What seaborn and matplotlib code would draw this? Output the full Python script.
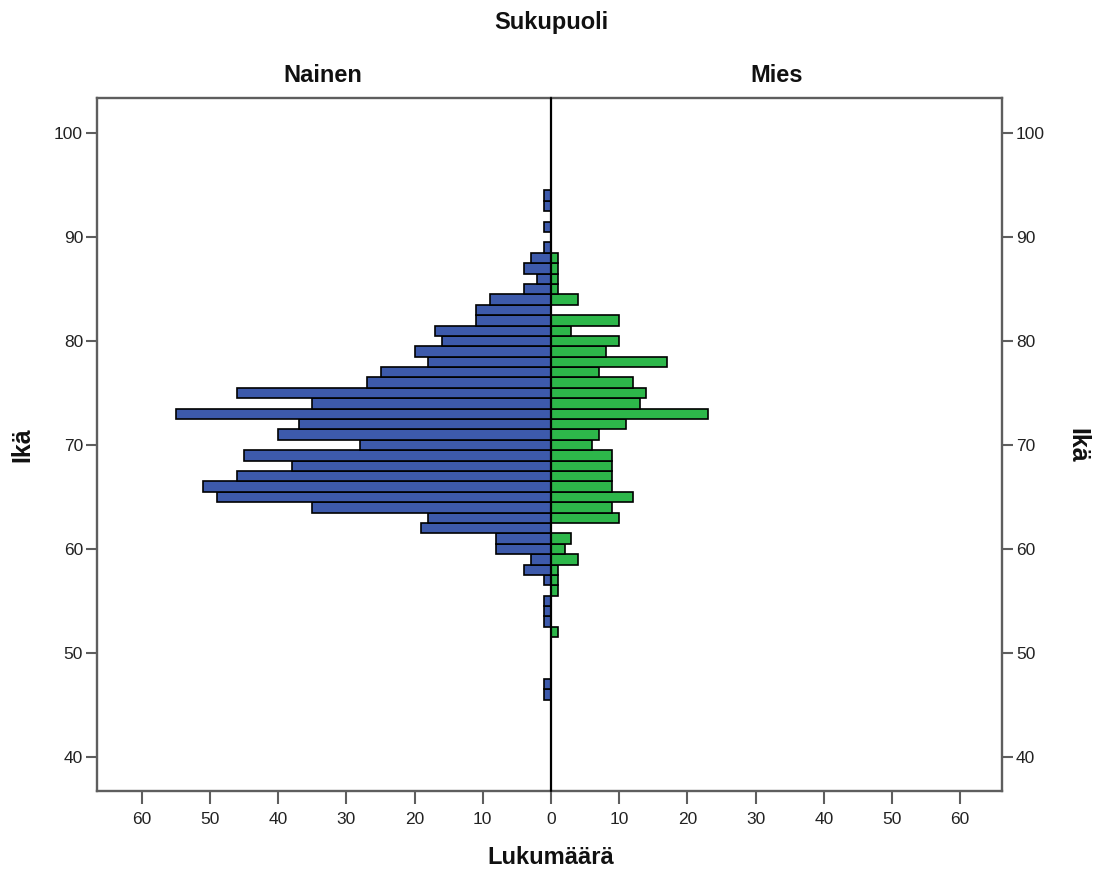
import matplotlib
matplotlib.use("Agg")
import matplotlib.pyplot as plt
import seaborn as sns
import pandas as pd

# Age (years) and head counts per single year of age
ages = list(range(46, 95))
women = [1, 1, 0, 0, 0, 0, 0, 1, 1, 1,
         0, 1, 4, 3, 8, 8, 19, 18, 35, 49,
         51, 46, 38, 45, 28, 40, 37, 55, 35, 46,
         27, 25, 18, 20, 16, 17, 11, 11, 9, 4,
         2, 4, 3, 1, 0, 1, 0, 1, 1]
men = [0, 0, 0, 0, 0, 0, 1, 0, 0, 0,
       1, 1, 1, 4, 2, 3, 0, 10, 9, 12,
       9, 9, 9, 9, 6, 7, 11, 23, 13, 14,
       12, 7, 17, 8, 10, 3, 10, 0, 4, 1,
       1, 1, 1, 0, 0, 0, 0, 0, 0]

panels = ["Nainen", "Mies"]
y_ticks = [40, 50, 60, 70, 80, 90, 100]
x_ticks = [0, 10, 20, 30, 40, 50, 60]

df = pd.DataFrame({"Ikä": ages, "Nainen": women, "Mies": men})

sns.set_theme(style="white")
plt.rcParams["font.family"] = ["Liberation Sans", "DejaVu Sans"]

W, H = 1099, 871
fig = plt.figure(figsize=(W / 100, H / 100), dpi=100)

x0, xc, x1 = 97, 551, 1002
y_top, y_bot = 98, 791
px_per_unit = 6.82
fb = 1 - y_bot / H
fh = (y_bot - y_top) / H
ax_l = fig.add_axes([x0 / W, fb, (xc - x0) / W, fh])
ax_r = fig.add_axes([xc / W, fb, (x1 - xc) / W, fh])

frame = "#5e5e5e"
colors = {"Nainen": "#3d5aab", "Mies": "#2db74a"}

for ax, name in zip((ax_l, ax_r), panels):
    sns.histplot(data=df, y="Ikä", weights=name, discrete=True, ax=ax,
                 color=colors[name], edgecolor="black", linewidth=1.2,
                 alpha=1.0, shrink=1.0)
    ax.set_ylim(36.7, 103.4)
    ax.set_xlabel("")
    ax.set_ylabel("")
    ax.patch.set_alpha(0)
    for s in ax.spines.values():
        s.set_color(frame)
        s.set_linewidth(1.7)
    ax.tick_params(axis="both", colors=frame, labelcolor="#222222",
                   labelsize=12.5, width=1.5)
    ax.tick_params(axis="x", length=9, pad=6)
    ax.tick_params(axis="y", length=8, pad=2)
    ax.set_yticks(y_ticks)
    ax.grid(False)

# Women grow to the left, men to the right
ax_l.set_xlim((xc - x0) / px_per_unit, 0)
ax_r.set_xlim(0, (x1 - xc) / px_per_unit)
ax_l.set_xticks(x_ticks)
ax_r.set_xticks(x_ticks[1:])

# Shared zero line between the two halves
ax_l.spines["right"].set_visible(False)
ax_r.spines["left"].set_visible(False)
ax_r.axvline(0, color="black", linewidth=1.6, zorder=5, clip_on=False)

ax_l.tick_params(axis="y", left=True, right=False, labelleft=True, labelright=False)
ax_r.tick_params(axis="y", left=False, right=True, labelleft=False, labelright=True)
ax_l.tick_params(axis="x", bottom=True)
ax_r.tick_params(axis="x", bottom=True)

bold = dict(fontweight="bold", color="#111111", fontsize=17)
fig.text(xc / W, 1 - 22 / H, "Sukupuoli", ha="center", va="center", **bold)
fig.text(323 / W, 1 - 75 / H, panels[0], ha="center", va="center", **bold)
fig.text(777 / W, 1 - 75 / H, panels[1], ha="center", va="center", **bold)
fig.text(xc / W, 1 - 857 / H, "Lukumäärä", ha="center", va="center", **bold)
fig.text(22 / W, 1 - 445 / H, "Ikä", ha="center", va="center", rotation=90,
         fontweight="bold", color="#111111", fontsize=18)
fig.text(1077 / W, 1 - 445 / H, "Ikä", ha="center", va="center", rotation=270,
         fontweight="bold", color="#111111", fontsize=18)

fig.savefig("out.png", dpi=100, facecolor="white")
